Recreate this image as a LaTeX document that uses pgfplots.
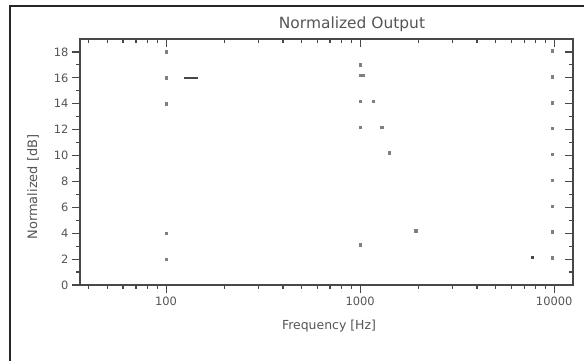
\documentclass[border=0pt]{standalone}
\usepackage{fontspec}
\setmainfont{DejaVu Sans}
\usepackage{pgfplots}
\pgfplotsset{compat=1.18}
\definecolor{axgray}{HTML}{484848}
\definecolor{txtgray}{HTML}{555555}
\definecolor{ptgray}{HTML}{808080}
\begin{document}
\begin{tikzpicture}
\useasboundingbox (0bp,0bp) rectangle (584bp,361bp);
\fill[white] (0bp,0bp) rectangle (584bp,361bp);
\draw[line width=2bp, black!85] (10bp,-10bp) rectangle (600bp,355bp);
\begin{axis}[
    at={(80bp,76bp)}, anchor=south west,
    scale only axis, width=493bp, height=246bp,
    xmode=log, xmin=36, xmax=12500, ymin=0, ymax=19,
    xtick={100,1000,10000}, ytick={0,2,...,18},
    minor xtick={40,50,60,70,80,90,200,300,400,500,600,700,800,900,2000,3000,4000,5000,6000,7000,8000,9000},
    minor ytick={1,3,...,17},
    major tick length=8bp, minor tick length=4bp,
    every tick/.style={axgray, line width=1.2bp},
    /pgf/number format/assume math mode=true,
    tick label style={font=\fontsize{11.5}{12}\selectfont, text=txtgray},
    axis line style={axgray, line width=1.4bp},
    tick align=outside, xtick pos=bottom, ytick pos=left,
    xticklabels={100,1000,10000},
  ]
\addplot[only marks, mark=square*, mark size=1.3bp, ptgray] coordinates {
 (100,18) (100,16) (100,14) (100,4) (100,2)
 (1000,17) (1000,16.2) (1000,14.2) (1000,12.2) (1000,3.1)
 (1036,16.2) (1166,14.2) (1288,12.2) (1410,10.2) (1937,4.2)
 (9760,18.1) (9760,16.1) (9760,14.1) (9760,12.1) (9760,10.1)
 (9760,8.1) (9760,6.1) (9760,4.1) (9760,2.1)
};
\addplot[only marks, mark=square*, mark size=1.3bp, axgray] coordinates {
 (7700,2.15)
};
\addplot[axgray, line width=1.5bp] coordinates {(124,16) (146,16)};
\end{axis}
\begin{axis}[
    at={(80bp,76bp)}, anchor=south west,
    scale only axis, width=493bp, height=246bp,
    xmode=log, xmin=36, xmax=12500, ymin=0, ymax=19,
    xtick={100,1000,10000}, ytick={0,2,...,18},
    minor xtick={40,50,60,70,80,90,200,300,400,500,600,700,800,900,2000,3000,4000,5000,6000,7000,8000,9000},
    minor ytick={1,3,...,17},
    major tick length=8bp, minor tick length=4bp,
    every tick/.style={axgray, line width=1.2bp},
    axis line style={draw=none},
    tick align=inside, xtick pos=top, ytick pos=right,
    xticklabels={}, yticklabels={},
  ]
\addplot[draw=none] coordinates {(100,1)};
\end{axis}
\node[text=txtgray, font=\fontsize{15.5}{17}\selectfont] at (352bp,337bp) {Normalized Output};
\node[text=txtgray, font=\fontsize{12.5}{14}\selectfont] at (329bp,35bp) {Frequency [Hz]};
\node[text=txtgray, font=\fontsize{13}{14}\selectfont, rotate=90] at (33bp,174bp) {Normalized [dB]};
\end{tikzpicture}
\end{document}
